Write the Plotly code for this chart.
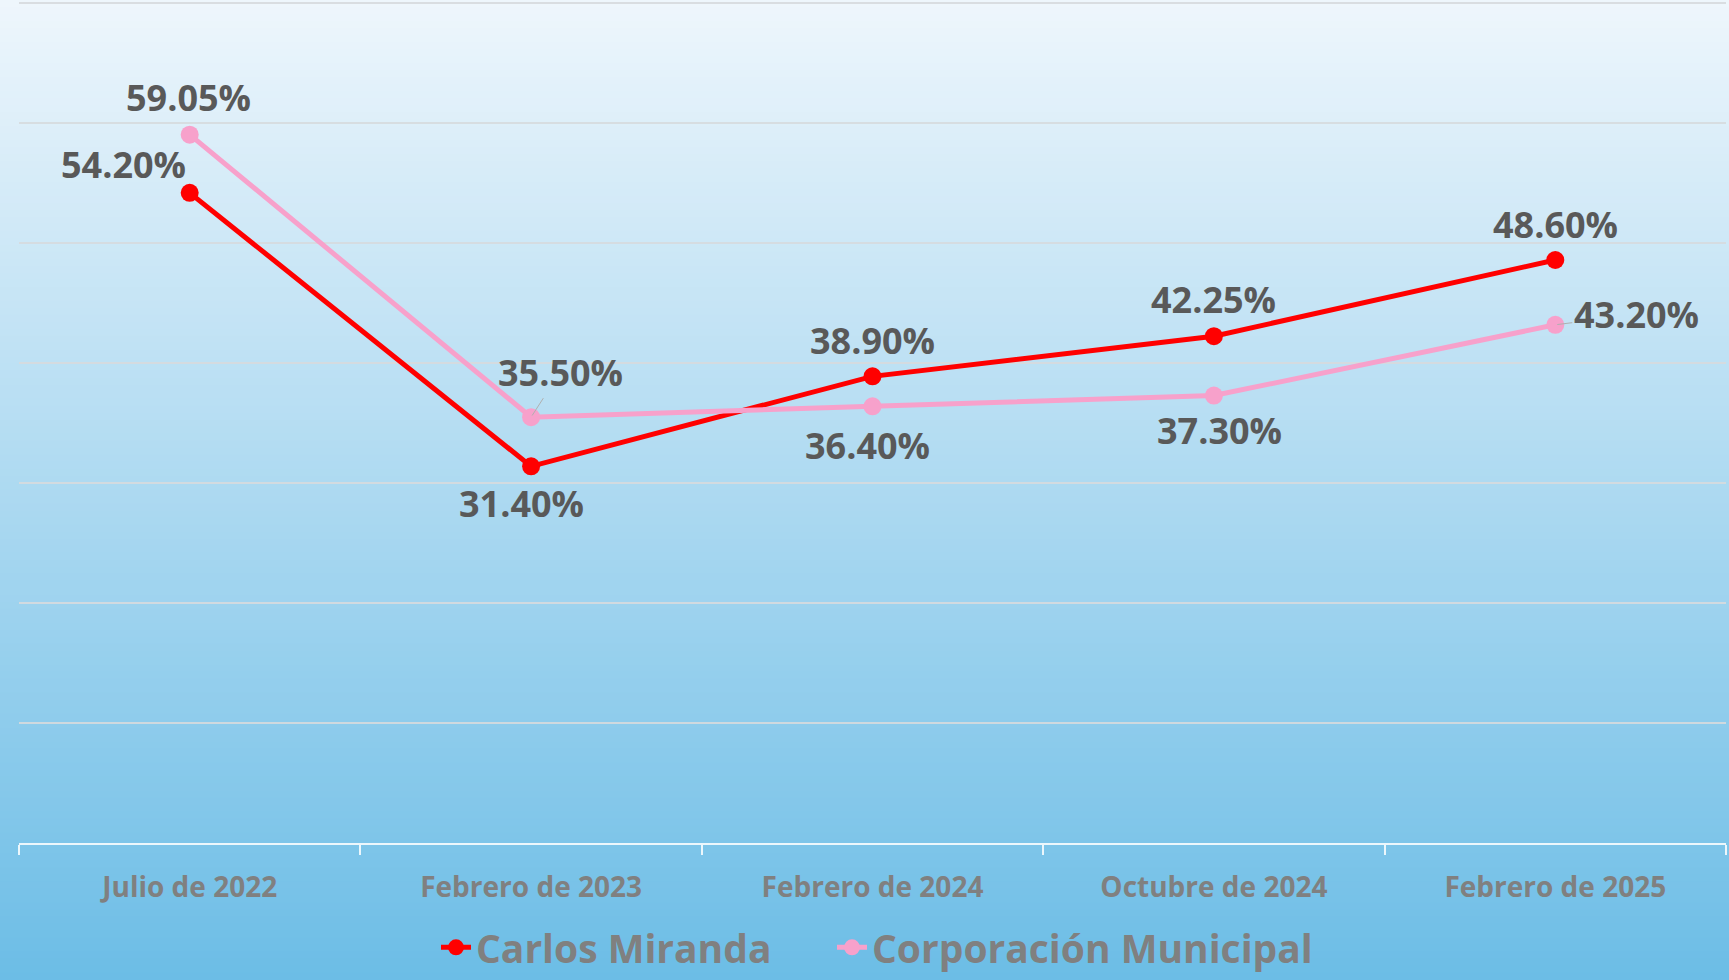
import plotly.graph_objects as go

categories = ["Julio de 2022", "Febrero de 2023", "Febrero de 2024", "Octubre de 2024", "Febrero de 2025"]
carlos = [54.20, 31.40, 38.90, 42.25, 48.60]
corporacion = [59.05, 35.50, 36.40, 37.30, 43.20]
series_names = ["Carlos Miranda", "Corporación Municipal"]

# label offsets in pixels (xshift, yshift) and whether a leader line is drawn
carlos_off = [(-66, 28), (-10, -37), (0, 36), (0, 37), (0, 36)]
corp_off = [(-1, 37), (29, 45), (-5, -39), (6, -35), (81, 10)]
carlos_leader = [False, False, False, False, False]
corp_leader = [False, True, False, False, True]

RED = "#ff0000"
PINK = "#f7a1cb"
LABEL = "#595959"
AXTXT = "#808080"
FONT = "Open Sans"

fig = go.Figure()
fig.add_trace(go.Scatter(x=categories, y=carlos, name=series_names[0], mode="lines+markers",
                         line=dict(color=RED, width=5), marker=dict(size=18, color=RED),
                         legend="legend"))
fig.add_trace(go.Scatter(x=categories, y=corporacion, name=series_names[1], mode="lines+markers",
                         line=dict(color=PINK, width=5), marker=dict(size=18, color=PINK),
                         legend="legend2"))

annotations = []
for vals, offs, leads in ((carlos, carlos_off, carlos_leader), (corporacion, corp_off, corp_leader)):
    for c, v, (dx, dy), lead in zip(categories, vals, offs, leads):
        font = dict(family=FONT, size=36, color=LABEL, weight="bold")
        if lead:
            annotations.append(dict(x=c, y=v, xref="x", yref="y", text=f"{v:.2f}%", showarrow=True,
                                    ax=dx, ay=-dy, arrowhead=0, arrowwidth=1, arrowcolor="#b0b0b0",
                                    standoff=2, startstandoff=0, font=font))
        else:
            annotations.append(dict(x=c, y=v, xref="x", yref="y", text=f"{v:.2f}%", showarrow=False,
                                    xshift=dx, yshift=dy, font=font))

# gradient background as stacked bands (paper coords extended over the whole figure)
W, H = 1729, 980
l, r, t, b = 19, 3, 0, 136.5
pw, ph = W - l - r, H - t - b
top_c = (238, 246, 252)
bot_c = (108, 189, 230)
n = 140
shapes = []
for i in range(n):
    f0 = i / n
    f1 = (i + 1) / n
    fm = (f0 + f1) / 2
    col = tuple(round(top_c[k] + (bot_c[k] - top_c[k]) * fm) for k in range(3))
    y_top_px = f0 * H - (2 if i == 0 else 0)
    y_bot_px = f1 * H + 1
    shapes.append(dict(type="rect", xref="paper", yref="paper", layer="below",
                       x0=-l / pw - 0.01, x1=1 + r / pw + 0.01,
                       y0=(H - b - y_bot_px) / ph, y1=(H - b - y_top_px) / ph,
                       fillcolor="rgb(%d,%d,%d)" % col, line=dict(width=0)))

legend_y = (H - b - 948) / ph
legend_common = dict(orientation="h", y=legend_y, yanchor="middle", xanchor="left",
                     font=dict(family=FONT, size=39, color=AXTXT, weight="bold"),
                     bgcolor="rgba(0,0,0,0)", itemwidth=30)

fig.update_layout(
    width=W, height=H,
    margin=dict(l=l, r=r, t=t, b=b),
    paper_bgcolor="#6cbde6", plot_bgcolor="rgba(0,0,0,0)",
    shapes=shapes,
    annotations=annotations,
    showlegend=True,
    legend=dict(x=(436 - l) / pw, **legend_common),
    legend2=dict(x=(832 - l) / pw, **legend_common),
    xaxis=dict(showgrid=False, showline=True, linecolor="rgba(255,255,255,0.85)", linewidth=2,
               ticks="outside", ticklen=10, tickwidth=1.5, tickcolor="rgba(255,255,255,0.85)",
               tickson="boundaries", ticklabelstandoff=18,
               tickfont=dict(family=FONT, size=28, color=AXTXT, weight="bold"),
               range=[-0.5, len(categories) - 0.5], fixedrange=True),
    yaxis=dict(range=[0, 70.275], dtick=10, showgrid=True, gridcolor="rgba(214,218,222,0.9)", gridwidth=1.5,
               showticklabels=False, zeroline=False, showline=False, fixedrange=True),
)

fig.write_html("out.html", config={"displayModeBar": False},
               post_script="document.body.style.margin='0';document.body.style.overflow='hidden';")
